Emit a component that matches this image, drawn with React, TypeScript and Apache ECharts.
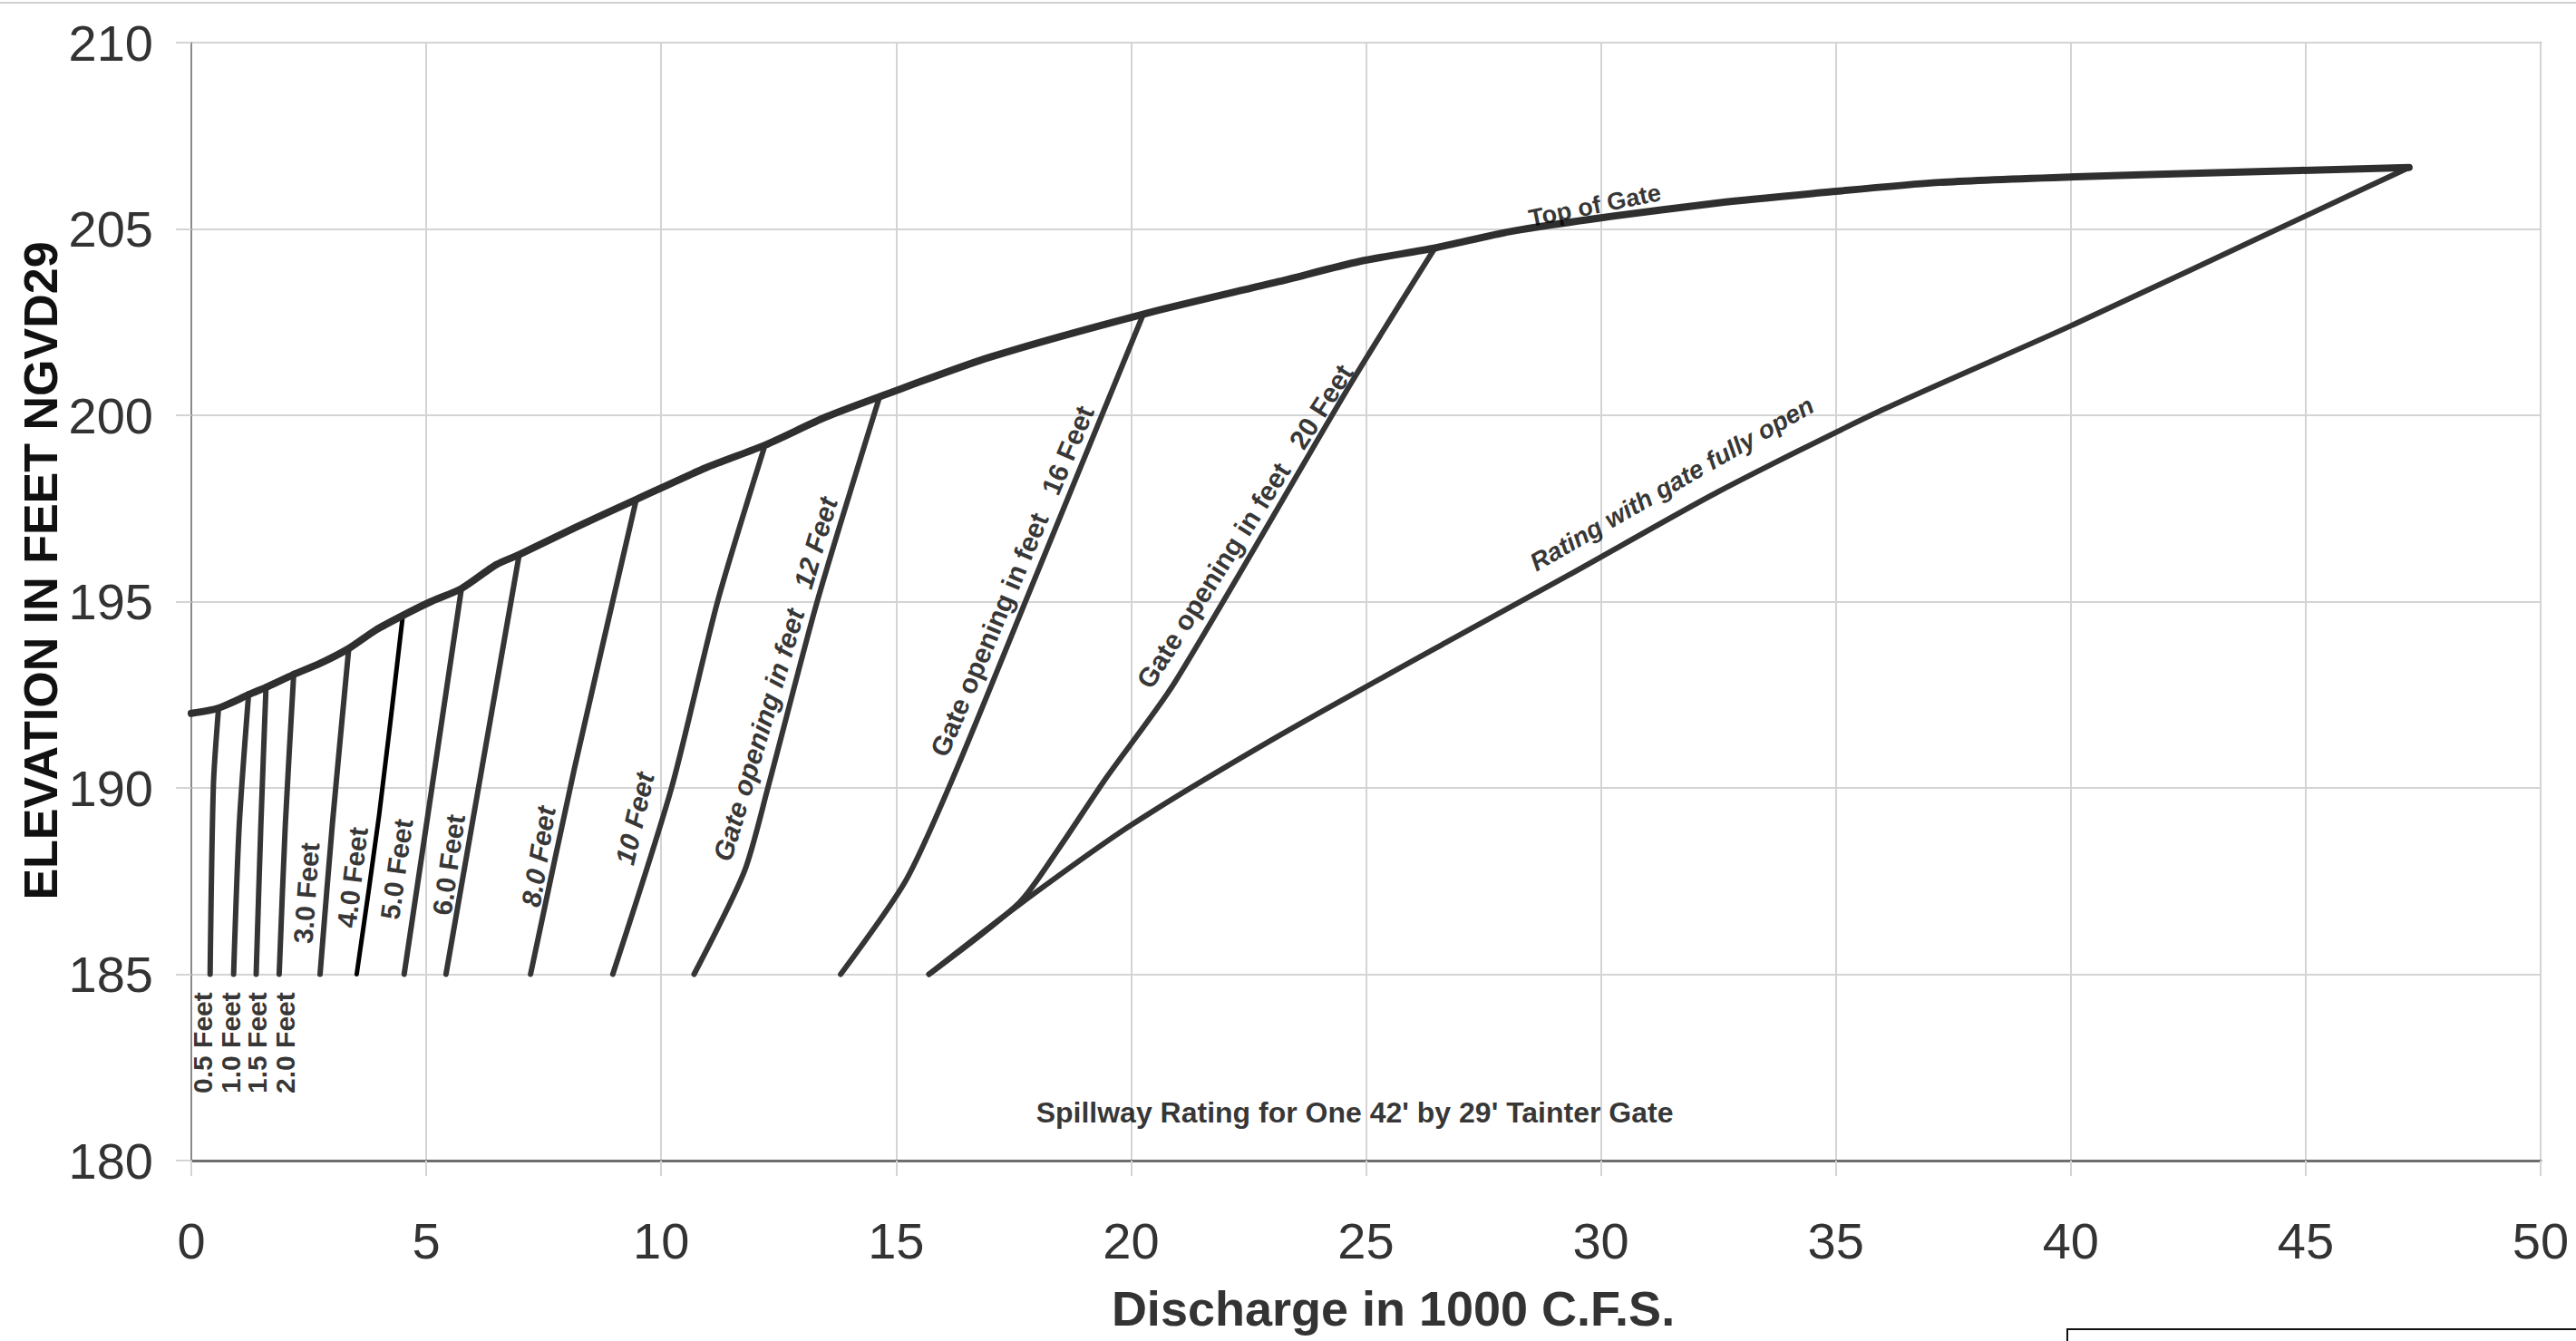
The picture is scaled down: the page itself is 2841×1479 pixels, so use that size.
import React, { useEffect, useRef } from "react";
import * as echarts from "echarts";

// ---- Data (discharge in 1000 cfs, elevation in feet NGVD29) ----
const xTicks = [0, 5, 10, 15, 20, 25, 30, 35, 40, 45, 50];
const yTicks = [180, 185, 190, 195, 200, 205, 210];

const topOfGate: number[][] = [
  [0, 192.0], [0.58, 192.14], [1.25, 192.52], [1.59, 192.7], [2.17, 193.04],
  [2.74, 193.34], [3.35, 193.74], [3.92, 194.23], [4.49, 194.62], [5.1, 195.0],
  [5.75, 195.35], [6.49, 195.99], [6.96, 196.25], [8.16, 196.98], [9.47, 197.74],
  [10.97, 198.6], [12.21, 199.2], [13.5, 199.95], [14.65, 200.5], [17.0, 201.56],
  [20.22, 202.7], [23.15, 203.59], [24.87, 204.13], [26.47, 204.49], [28.07, 204.93],
  [30.0, 205.3], [32.5, 205.7], [34.5, 205.95], [37.2, 206.25], [40.1, 206.4],
  [42.9, 206.5], [47.2, 206.65],
];

const gate05: number[][] = [[0.4, 185], [0.47, 190.07], [0.58, 192.15]];
const gate10: number[][] = [[0.9, 185], [1.02, 189.0], [1.22, 192.53]];
const gate15: number[][] = [[1.38, 185], [1.48, 189.0], [1.59, 192.72]];
const gate20: number[][] = [[1.87, 185], [2.0, 189.0], [2.18, 193.07]];
const gate30: number[][] = [[2.74, 185], [3.0, 189.0], [3.35, 193.73]];
const gate40: number[][] = [[3.52, 185], [4.0, 189.3], [4.5, 194.61]];
const gate50: number[][] = [[4.53, 185], [5.12, 190.0], [5.75, 195.36]];
const gate60: number[][] = [[5.42, 185], [6.18, 190.5], [6.98, 196.27]];
const gate80: number[][] = [[7.22, 185], [8.15, 190.5], [9.47, 197.74]];
const gate100: number[][] = [[8.97, 185], [10.22, 190.0], [11.2, 195.0], [12.21, 199.2]];
const gate120: number[][] = [[10.7, 185], [11.77, 187.76], [12.27, 190.0], [13.32, 195.0], [14.65, 200.5]];
const gate160: number[][] = [[13.82, 185], [15.2, 187.5], [16.2, 190.24], [17.85, 195.3], [20.25, 202.68]];
const gate200: number[][] = [[15.7, 185], [17.62, 186.92], [18.47, 188.39], [19.46, 190.25], [20.93, 192.83], [24.7, 200.9], [26.47, 204.49]];
const fullyOpen: number[][] = [
  [15.7, 185], [17.6, 186.85], [20.0, 189.0], [23.15, 191.4], [26.7, 193.9],
  [29.3, 195.7], [32.5, 197.95], [36.0, 200.15], [40.0, 202.4], [45.0, 205.35], [47.2, 206.65],
];

// annotation texts with their anchor (data coords) and angle
const labelTexts = [
  "0.5 Feet", "1.0 Feet", "1.5 Feet", "2.0 Feet", "3.0 Feet", "4.0 Feet", "5.0 Feet",
  "6.0 Feet", "8.0 Feet", "10 Feet",
  "Gate opening in feet   12 Feet", "Gate opening in feet   16 Feet",
  "Gate opening in feet   20 Feet", "Rating with gate fully open", "Top of Gate",
];
const labelX = [0.25, 0.84, 1.4, 1.99, 2.45, 3.43, 4.37, 5.48, 7.39, 9.44, 12.43, 17.47, 22.42, 31.51, 29.87];
const labelY = [183.16, 183.16, 183.16, 183.16, 187.18, 187.6, 187.82, 187.94, 188.16, 189.18, 192.92, 195.55, 197.02, 198.16, 205.63];
const labelAngle = [90, 90, 90, 90, 86, 83, 82, 82, 81, 77, 73.5, 67, 57.5, 30, 11.5];
const labelItalic = [false, false, false, false, false, false, false, false, true, true, true, false, false, true, false];

const chartTitle = "Spillway Rating for One 42' by 29' Tainter Gate";
const titleAt = [24.76, 181.29];
const xName = "Discharge in 1000 C.F.S.";
const yName = "ELEVATION IN FEET NGVD29";

const NARROW = "'Liberation Sans Narrow', 'Arial Narrow', 'Liberation Sans', Arial, sans-serif";
const SANS = "'Liberation Sans', Arial, Helvetica, sans-serif";

export default function App() {
  const ref = useRef<HTMLDivElement>(null);

  useEffect(() => {
    if (!ref.current) return;
    const chart = echarts.init(ref.current, undefined, { renderer: "svg" });

    const lineSeries = (data: number[][], color = "#333333", width = 6, z = 3) => ({
      type: "line",
      data,
      smooth: 0.25,
      symbol: "none",
      silent: true,
      z,
      lineStyle: { color, width, cap: "round", join: "round" },
    });

    const gates = [gate05, gate10, gate15, gate20, gate30, gate40, gate50, gate60, gate80, gate100, gate120, gate160, gate200];

    const labelData = labelTexts.map((t, i) => ({
      value: [labelX[i], labelY[i]],
      label: {
        formatter: t,
        rotate: labelAngle[i],
        fontStyle: labelItalic[i] ? "italic" : "normal",
        fontSize: i < 10 ? 30 : i === 13 ? 28 : i === 14 ? 27 : 30,
      },
    }));

    const option: any = {
      animation: false,
      backgroundColor: "#ffffff",
      grid: {
        left: 211,
        right: 39,
        top: 47,
        bottom: 199,
        show: true,
        borderColor: "#9a9a9a",
        borderWidth: 2,
        backgroundColor: "transparent",
      },
      xAxis: {
        type: "value",
        min: 0,
        max: 50,
        interval: 5,
        name: xName,
        nameLocation: "middle",
        nameGap: 141,
        nameMoveOverlap: false,
        nameTextStyle: {
          fontFamily: NARROW,
          fontSize: 54,
          lineHeight: 44,
          fontWeight: "bold",
          color: "#333333",
          padding: [0, 0, 0, 60],
        },
        axisLine: { show: true, onZero: false, lineStyle: { color: "#6e6e6e", width: 3 } },
        axisTick: { show: true, length: 17, lineStyle: { color: "#d4d4d4", width: 2 } },
        axisLabel: {
          margin: 66,
          fontFamily: NARROW,
          fontSize: 56,
          lineHeight: 44,
          color: "#333333",
          formatter: (v: number) => (xTicks.includes(v) ? String(v) : ""),
        },
        splitLine: { show: true, lineStyle: { color: "#d4d4d4", width: 2 } },
      },
      yAxis: {
        type: "value",
        min: 180,
        max: 210,
        interval: 5,
        name: yName,
        nameLocation: "middle",
        nameRotate: 90,
        nameGap: 146,
        nameMoveOverlap: false,
        nameTextStyle: {
          fontFamily: SANS,
          fontSize: 52,
          lineHeight: 40,
          fontWeight: "bold",
          color: "#111111",
          padding: [0, 0, 0, 68],
        },
        axisLine: { show: true, onZero: false, lineStyle: { color: "#8a8a8a", width: 2 } },
        axisTick: { show: true, length: 17, lineStyle: { color: "#d4d4d4", width: 2 } },
        axisLabel: {
          margin: 42,
          fontFamily: NARROW,
          fontSize: 56,
          lineHeight: 44,
          color: "#333333",
          formatter: (v: number) => (yTicks.includes(v) ? String(v) : ""),
        },
        splitLine: { show: true, lineStyle: { color: "#d4d4d4", width: 2 } },
      },
      series: [
        ...gates.map((g) => lineSeries(g, g === gate40 ? "#000000" : "#353535", g === gate40 ? 5 : 6)),
        lineSeries(fullyOpen, "#333333", 6),
        lineSeries(topOfGate, "#2f2f2f", 8, 4),
        {
          type: "scatter",
          data: labelData,
          symbolSize: 0,
          silent: true,
          z: 6,
          label: {
            show: true,
            position: "inside",
            align: "center",
            verticalAlign: "middle",
            fontFamily: SANS,
            fontWeight: "bold",
            color: "#000000",
          },
        },
        {
          type: "scatter",
          data: [{ value: titleAt, label: { formatter: chartTitle } }],
          symbolSize: 0,
          silent: true,
          z: 6,
          label: {
            show: true,
            position: "inside",
            align: "center",
            verticalAlign: "middle",
            fontFamily: NARROW,
            fontWeight: "bold",
            fontSize: 32,
            color: "#000000",
          },
        },
      ],
      graphic: [
        {
          type: "line",
          shape: { x1: 0, y1: 3, x2: 2841, y2: 3 },
          style: { stroke: "#cfcfcf", lineWidth: 2 },
          silent: true,
        },
        {
          type: "rect",
          shape: { x: 2280, y: 1466, width: 600, height: 40 },
          style: { fill: "none", stroke: "#111111", lineWidth: 2 },
          silent: true,
        },
      ],
    };

    chart.setOption(option);
    return () => chart.dispose();
  }, []);

  return (
    <div
      ref={ref}
      style={{ position: "fixed", left: 0, top: 0, width: "2841px", height: "1479px", background: "#fff" }}
    />
  );
}
